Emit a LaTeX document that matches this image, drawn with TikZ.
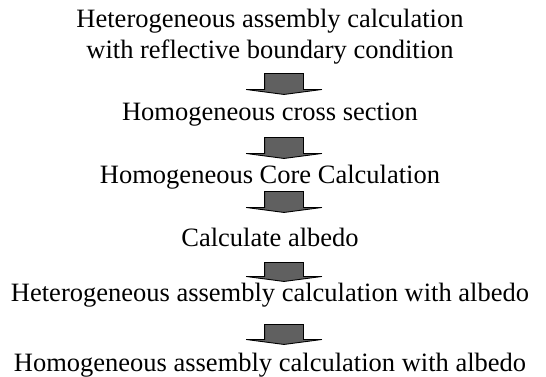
\documentclass[tikz,border=0pt]{standalone}
\usepackage{fontspec}
\setmainfont{Liberation Serif}
\usetikzlibrary{shapes.arrows, positioning}
\definecolor{flowGray}{HTML}{606060}
\tikzset{
  steptext/.style={font=\fontsize{26.5}{31}\selectfont, align=center, inner sep=0pt, anchor=base},
  flowarrow/.style={
    single arrow, shape border rotate=270, draw=black, line width=0.9pt,
    fill=flowGray, single arrow head extend=18.5pt, single arrow tip angle=165,
    inner xsep=19pt, inner ysep=0pt, minimum height=21pt, anchor=tail
  }
}
\begin{document}
\begin{tikzpicture}[x=1pt, y=1pt]
  \useasboundingbox (0,0) rectangle (546,-376);
  % steps
  \node[steptext] (hetref) at (270,-58) {Heterogeneous assembly calculation\\with reflective boundary condition};
  \node[steptext] (homxs) at (270,-120) {Homogeneous cross section};
  \node[steptext] (core) at (270,-183) {Homogeneous Core Calculation};
  \node[steptext] (albedo) at (270,-246) {Calculate albedo};
  \node[steptext] (hetalb) at (270,-301) {Heterogeneous assembly calculation with albedo};
  \node[steptext] (homalb) at (270,-371) {Homogeneous assembly calculation with albedo};
  % arrows between steps
  \node[flowarrow] (a1) at (284,-73) {};
  \node[flowarrow] (a2) at (284,-137) {};
  \node[flowarrow] (a3) at (284,-191) {};
  \node[flowarrow, minimum height=19pt] (a4) at (284,-262) {};
  \node[flowarrow, minimum height=20pt] (a5) at (284,-324) {};
\end{tikzpicture}
\end{document}
